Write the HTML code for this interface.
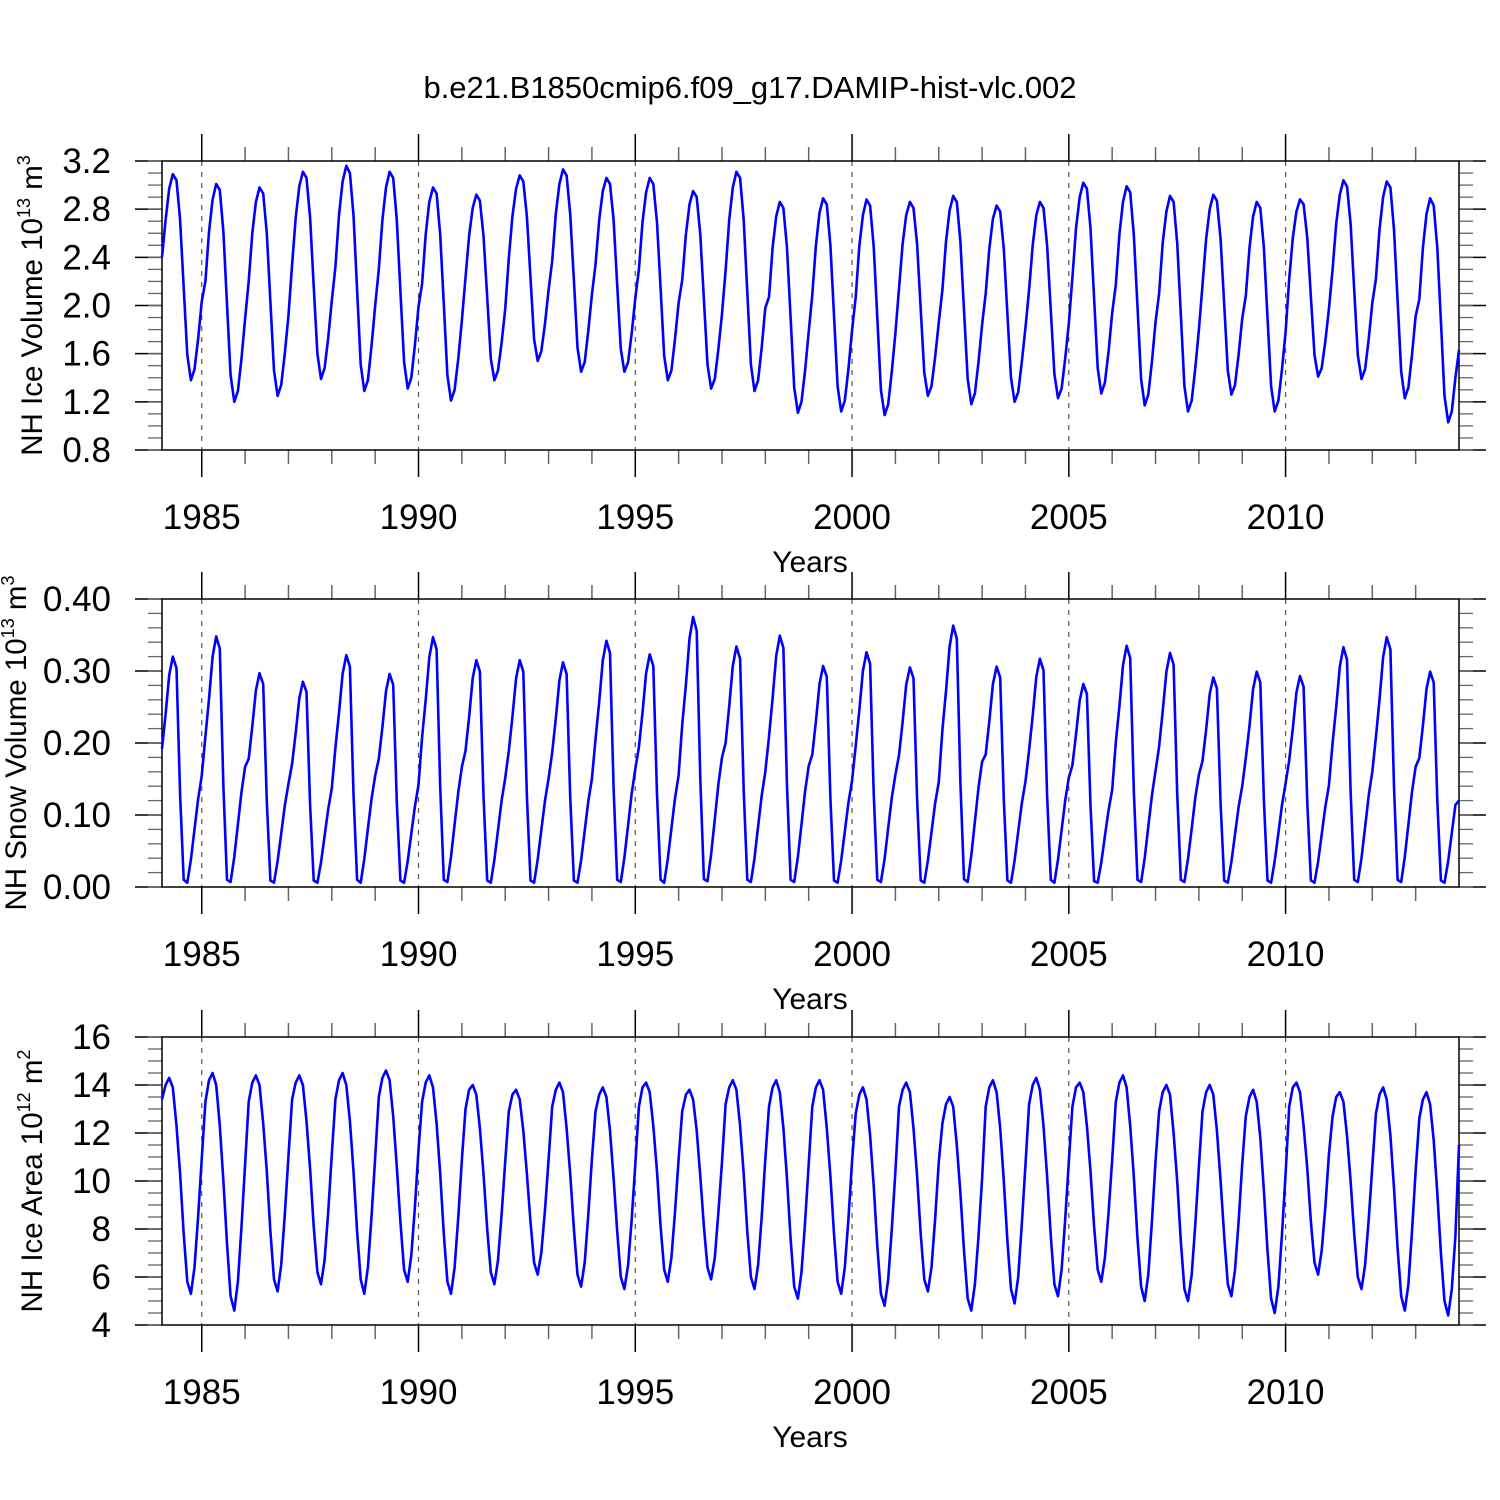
<!DOCTYPE html>
<html><head><meta charset="utf-8"><style>
html,body{margin:0;padding:0;background:#fff;}
svg{display:block;font-family:"Liberation Sans",sans-serif;}
</style></head>
<body>
<svg id="chart" width="1500" height="1500" viewBox="0 0 1500 1500">
<rect width="1500" height="1500" fill="#fff"/>
<text x="750" y="98" text-anchor="middle" font-size="31">b.e21.B1850cmip6.f09_g17.DAMIP-hist-vlc.002</text>
</svg>
<script>
const xTickYears = [1985,1990,1995,2000,2005,2010];
const iceVolume = [
2.40,2.71,2.97,3.09,3.04,2.71,2.15,1.59,1.38,1.47,1.72,2.03,
2.20,2.61,2.88,3.01,2.96,2.61,2.01,1.42,1.20,1.29,1.56,1.89,
2.20,2.60,2.86,2.98,2.93,2.60,2.03,1.46,1.25,1.34,1.60,1.91,
2.34,2.73,2.99,3.11,3.06,2.73,2.16,1.60,1.39,1.48,1.73,2.04,
2.32,2.75,3.03,3.16,3.10,2.75,2.13,1.51,1.29,1.38,1.66,2.00,
2.30,2.71,2.98,3.11,3.06,2.71,2.12,1.53,1.31,1.40,1.67,1.99,
2.18,2.59,2.86,2.98,2.93,2.59,2.01,1.42,1.21,1.30,1.56,1.88,
2.23,2.58,2.81,2.92,2.87,2.58,2.07,1.56,1.38,1.46,1.69,1.97,
2.39,2.74,2.97,3.08,3.03,2.74,2.23,1.72,1.54,1.62,1.85,2.13,
2.37,2.76,3.01,3.13,3.08,2.76,2.21,1.65,1.45,1.53,1.79,2.09,
2.34,2.71,2.95,3.06,3.01,2.71,2.17,1.64,1.45,1.53,1.77,2.06,
2.30,2.69,2.94,3.06,3.01,2.69,2.14,1.58,1.38,1.46,1.72,2.02,
2.21,2.59,2.84,2.95,2.90,2.59,2.05,1.51,1.31,1.39,1.64,1.93,
2.29,2.71,2.98,3.11,3.06,2.71,2.11,1.51,1.29,1.38,1.65,1.98,
2.07,2.48,2.74,2.86,2.81,2.48,1.90,1.32,1.11,1.20,1.46,1.78,
2.09,2.50,2.77,2.89,2.84,2.50,1.92,1.33,1.12,1.21,1.47,1.79,
2.07,2.49,2.75,2.88,2.83,2.49,1.90,1.30,1.09,1.18,1.45,1.77,
2.14,2.51,2.75,2.86,2.81,2.51,1.97,1.44,1.25,1.33,1.57,1.86,
2.13,2.53,2.79,2.91,2.86,2.53,1.96,1.39,1.18,1.27,1.53,1.84,
2.10,2.47,2.72,2.83,2.78,2.47,1.93,1.40,1.20,1.28,1.53,1.82,
2.13,2.50,2.75,2.86,2.81,2.50,1.96,1.43,1.23,1.31,1.56,1.85,
2.23,2.64,2.90,3.02,2.97,2.64,2.06,1.48,1.27,1.36,1.62,1.94,
2.17,2.59,2.86,2.99,2.94,2.59,1.99,1.39,1.17,1.26,1.53,1.86,
2.10,2.52,2.78,2.91,2.86,2.52,1.93,1.33,1.12,1.21,1.48,1.80,
2.17,2.55,2.80,2.92,2.87,2.55,2.01,1.46,1.26,1.34,1.59,1.89,
2.08,2.48,2.74,2.86,2.81,2.48,1.90,1.33,1.12,1.21,1.47,1.78,
2.22,2.56,2.78,2.88,2.84,2.56,2.07,1.59,1.41,1.48,1.70,1.97,
2.30,2.68,2.92,3.04,2.99,2.68,2.13,1.59,1.39,1.47,1.72,2.02,
2.22,2.63,2.90,3.03,2.98,2.63,2.04,1.45,1.23,1.32,1.59,1.91,
2.05,2.48,2.76,2.89,2.83,2.48,1.87,1.25,1.03,1.12,1.40,1.63];
const snowVolume = [
.192,.240,.294,.320,.304,.128,.010,.006,.038,.080,.122,.154,
.209,.261,.320,.348,.331,.139,.010,.007,.042,.087,.132,.167,
.178,.223,.273,.297,.282,.119,.009,.006,.036,.074,.113,.143,
.171,.214,.262,.285,.271,.114,.009,.006,.034,.071,.108,.137,
.193,.242,.296,.322,.306,.129,.010,.006,.039,.081,.122,.155,
.178,.222,.272,.296,.281,.118,.009,.006,.036,.074,.112,.142,
.208,.260,.319,.347,.330,.139,.010,.007,.042,.087,.132,.167,
.189,.236,.290,.315,.299,.126,.009,.006,.038,.079,.120,.151,
.189,.236,.290,.315,.299,.126,.009,.006,.038,.079,.120,.151,
.187,.234,.287,.312,.296,.125,.009,.006,.037,.078,.119,.150,
.205,.257,.315,.342,.325,.137,.010,.007,.041,.086,.130,.164,
.194,.242,.297,.323,.307,.129,.010,.006,.039,.081,.123,.155,
.225,.281,.345,.375,.356,.150,.011,.008,.045,.094,.143,.180,
.200,.251,.307,.334,.317,.134,.010,.007,.040,.084,.127,.160,
.209,.262,.321,.349,.332,.140,.010,.007,.042,.087,.133,.168,
.184,.230,.282,.307,.292,.123,.009,.006,.037,.077,.117,.147,
.196,.245,.300,.326,.310,.130,.010,.007,.039,.082,.124,.156,
.183,.229,.281,.305,.290,.122,.009,.006,.037,.076,.116,.146,
.218,.272,.334,.363,.345,.145,.011,.007,.044,.091,.138,.174,
.184,.230,.282,.306,.291,.122,.009,.006,.037,.077,.116,.147,
.190,.238,.292,.317,.301,.127,.010,.006,.038,.079,.120,.152,
.169,.212,.259,.282,.268,.113,.008,.006,.034,.071,.107,.135,
.201,.251,.308,.335,.318,.134,.010,.007,.040,.084,.127,.161,
.195,.244,.299,.325,.309,.130,.010,.007,.039,.081,.124,.156,
.175,.218,.268,.291,.276,.116,.009,.006,.035,.073,.111,.140,
.179,.224,.275,.299,.284,.120,.009,.006,.036,.075,.114,.144,
.176,.220,.270,.293,.278,.117,.009,.006,.035,.073,.111,.141,
.200,.250,.306,.333,.316,.133,.010,.007,.040,.083,.127,.160,
.208,.260,.319,.347,.330,.139,.010,.007,.042,.087,.132,.167,
.179,.224,.275,.299,.284,.120,.009,.006,.036,.075,.114,.120];
const iceArea = [
13.4,14.0,14.3,13.9,12.3,10.3,7.8,5.8,5.3,6.4,8.5,10.9,
13.3,14.2,14.5,14.0,12.3,10.0,7.4,5.2,4.6,5.8,8.1,10.7,
13.3,14.1,14.4,14.0,12.4,10.4,7.9,5.9,5.4,6.5,8.6,11.0,
13.4,14.1,14.4,14.0,12.5,10.5,8.1,6.2,5.7,6.7,8.7,11.1,
13.4,14.2,14.5,14.0,12.5,10.4,7.9,5.9,5.3,6.4,8.5,11.0,
13.5,14.3,14.6,14.2,12.7,10.6,8.3,6.3,5.8,6.9,8.9,11.3,
13.3,14.1,14.4,13.9,12.4,10.3,7.8,5.8,5.3,6.4,8.5,10.9,
13.0,13.8,14.0,13.6,12.2,10.3,8.0,6.2,5.7,6.7,8.6,10.8,
12.9,13.6,13.8,13.4,12.1,10.3,8.3,6.6,6.1,7.0,8.8,10.9,
13.1,13.8,14.1,13.7,12.2,10.3,8.0,6.1,5.6,6.6,8.6,10.9,
12.9,13.6,13.9,13.5,12.1,10.1,7.9,6.0,5.5,6.5,8.4,10.7,
13.1,13.9,14.1,13.7,12.3,10.4,8.1,6.3,5.8,6.8,8.7,10.9,
12.9,13.6,13.8,13.4,12.1,10.2,8.1,6.4,5.9,6.8,8.7,10.8,
13.2,13.9,14.2,13.8,12.3,10.3,7.9,6.0,5.5,6.5,8.5,10.9,
13.1,13.9,14.2,13.7,12.2,10.1,7.6,5.6,5.1,6.2,8.3,10.7,
13.1,13.9,14.2,13.8,12.2,10.2,7.8,5.8,5.3,6.4,8.4,10.8,
12.8,13.6,13.9,13.4,11.9,9.8,7.3,5.3,4.8,5.9,8.0,10.4,
13.1,13.8,14.1,13.7,12.2,10.2,7.8,5.9,5.4,6.4,8.4,10.8,
12.4,13.2,13.5,13.1,11.5,9.5,7.1,5.1,4.6,5.7,7.7,10.1,
13.1,13.9,14.2,13.7,12.2,10.0,7.5,5.5,4.9,6.0,8.2,10.7,
13.2,14.0,14.3,13.8,12.3,10.2,7.7,5.7,5.2,6.3,8.4,10.8,
13.1,13.9,14.1,13.7,12.3,10.4,8.1,6.3,5.8,6.8,8.7,10.9,
13.3,14.1,14.4,13.9,12.3,10.2,7.6,5.6,5.0,6.1,8.3,10.8,
12.9,13.7,14.0,13.6,12.0,10.0,7.5,5.5,5.0,6.1,8.2,10.6,
12.9,13.7,14.0,13.6,12.1,10.0,7.7,5.7,5.2,6.3,8.3,10.7,
12.7,13.5,13.8,13.3,11.8,9.6,7.1,5.1,4.5,5.6,7.8,10.3,
13.1,13.9,14.1,13.7,12.3,10.5,8.3,6.6,6.1,7.1,8.9,11.1,
12.7,13.5,13.7,13.3,11.9,10.0,7.8,6.0,5.5,6.5,8.4,10.6,
12.8,13.6,13.9,13.4,11.9,9.7,7.2,5.2,4.6,5.7,7.9,10.4,
12.6,13.4,13.7,13.2,11.7,9.5,7.0,5.0,4.4,5.5,7.7,11.5];
const volTicks = ["0.8","1.2","1.6","2.0","2.4","2.8","3.2"];
const snowTicks = ["0.00","0.10","0.20","0.30","0.40"];
const areaTicks = ["4","6","8","10","12","14","16"];

const NS="http://www.w3.org/2000/svg";
const svg=document.getElementById('chart');
function mk(tag,attrs,parent){const e=document.createElementNS(NS,tag);for(const k in attrs)e.setAttribute(k,attrs[k]);(parent||svg).appendChild(e);return e;}
const X0=162,X1=1459,T0=1984+1/12,T1=2014;
function xs(t){return X0+(t-T0)/(T1-T0)*(X1-X0);}

function panel(key,top,bottom,ymin,ymax,ticks,minorStep,data,titleMain,titleExp,titleUnit,titleUnitExp,titleX){
  const g=mk('g',{});
  
  
  const ys=v=>bottom-(v-ymin)/(ymax-ymin)*(bottom-top);
  xTickYears.forEach(yr=>{const l=mk('line',{x1:xs(yr),x2:xs(yr),y1:top,y2:bottom,stroke:'#555','stroke-width':1.2,'stroke-dasharray':'5,6'},g);
    
    });
  for(let yr=1985;yr<=2013;yr++){ if(yr%5===0)continue; const x=xs(yr);
    mk('line',{x1:x,x2:x,y1:top-14,y2:top,stroke:'#666','stroke-width':1.5},g);
    mk('line',{x1:x,x2:x,y1:bottom,y2:bottom+14,stroke:'#666','stroke-width':1.5},g);}
  xTickYears.forEach(yr=>{const x=xs(yr);
    mk('line',{x1:x,x2:x,y1:top-27,y2:top,stroke:'#000','stroke-width':1.5},g);
    mk('line',{x1:x,x2:x,y1:bottom,y2:bottom+27,stroke:'#000','stroke-width':1.5},g);
    const t=mk('text',{x:x,y:bottom+79,'text-anchor':'middle','font-size':35},g);t.textContent=yr;
    
    });
  const n=ticks.length;
  for(let i=0;i<n;i++){const v=ymin+i*(ymax-ymin)/(n-1);const y=ys(v);
    mk('line',{x1:135,x2:X0,y1:y,y2:y,stroke:'#000','stroke-width':1.5},g);
    mk('line',{x1:X1,x2:1486,y1:y,y2:y,stroke:'#000','stroke-width':1.5},g);
    const t=mk('text',{x:111,y:y+12,'text-anchor':'end','font-size':35},g);t.textContent=ticks[i];
    
    }
  for(let v=ymin;v<=ymax+1e-9;v+=minorStep){const y=ys(v);
    mk('line',{x1:148,x2:X0,y1:y,y2:y,stroke:'#666','stroke-width':1.3},g);
    mk('line',{x1:X1,x2:1473,y1:y,y2:y,stroke:'#666','stroke-width':1.3},g);}
  mk('rect',{x:X0,y:top,width:X1-X0,height:bottom-top,fill:'none',stroke:'#000','stroke-width':1.5},g);
  const pts=data.map((v,i)=>xs(1984+(i+1)/12).toFixed(1)+','+ys(v).toFixed(1)).join(' ');
  const pl=mk('polyline',{points:pts,fill:'none',stroke:'#0000ff','stroke-width':2.6,'stroke-linejoin':'round'},g);
  
  
  const xt=mk('text',{x:810,y:bottom+122,'text-anchor':'middle','font-size':30},g);xt.textContent='Years';
  
  
  const cy=(top+bottom)/2;
  const yt=mk('text',{x:0,y:0,'text-anchor':'middle','font-size':29.5,transform:`translate(${titleX},${cy}) rotate(-90)`},g);
  
  
  const a=mk('tspan',{},yt);a.textContent=titleMain;
  const b=mk('tspan',{dy:-12,'font-size':18},yt);b.textContent=titleExp;
  const c=mk('tspan',{dy:12},yt);c.textContent=titleUnit;
  const d=mk('tspan',{dy:-12,'font-size':18},yt);d.textContent=titleUnitExp;
}
panel('ice-volume',161,450,0.8,3.2,volTicks,0.1,iceVolume,'NH Ice Volume 10','13',' m','3',42);
panel('snow-volume',599,887,0,0.4,snowTicks,0.02,snowVolume,'NH Snow Volume 10','13',' m','3',26);
panel('ice-area',1037,1325,4,16,areaTicks,0.5,iceArea,'NH Ice Area 10','12',' m','2',42);
</script>
</body></html>
